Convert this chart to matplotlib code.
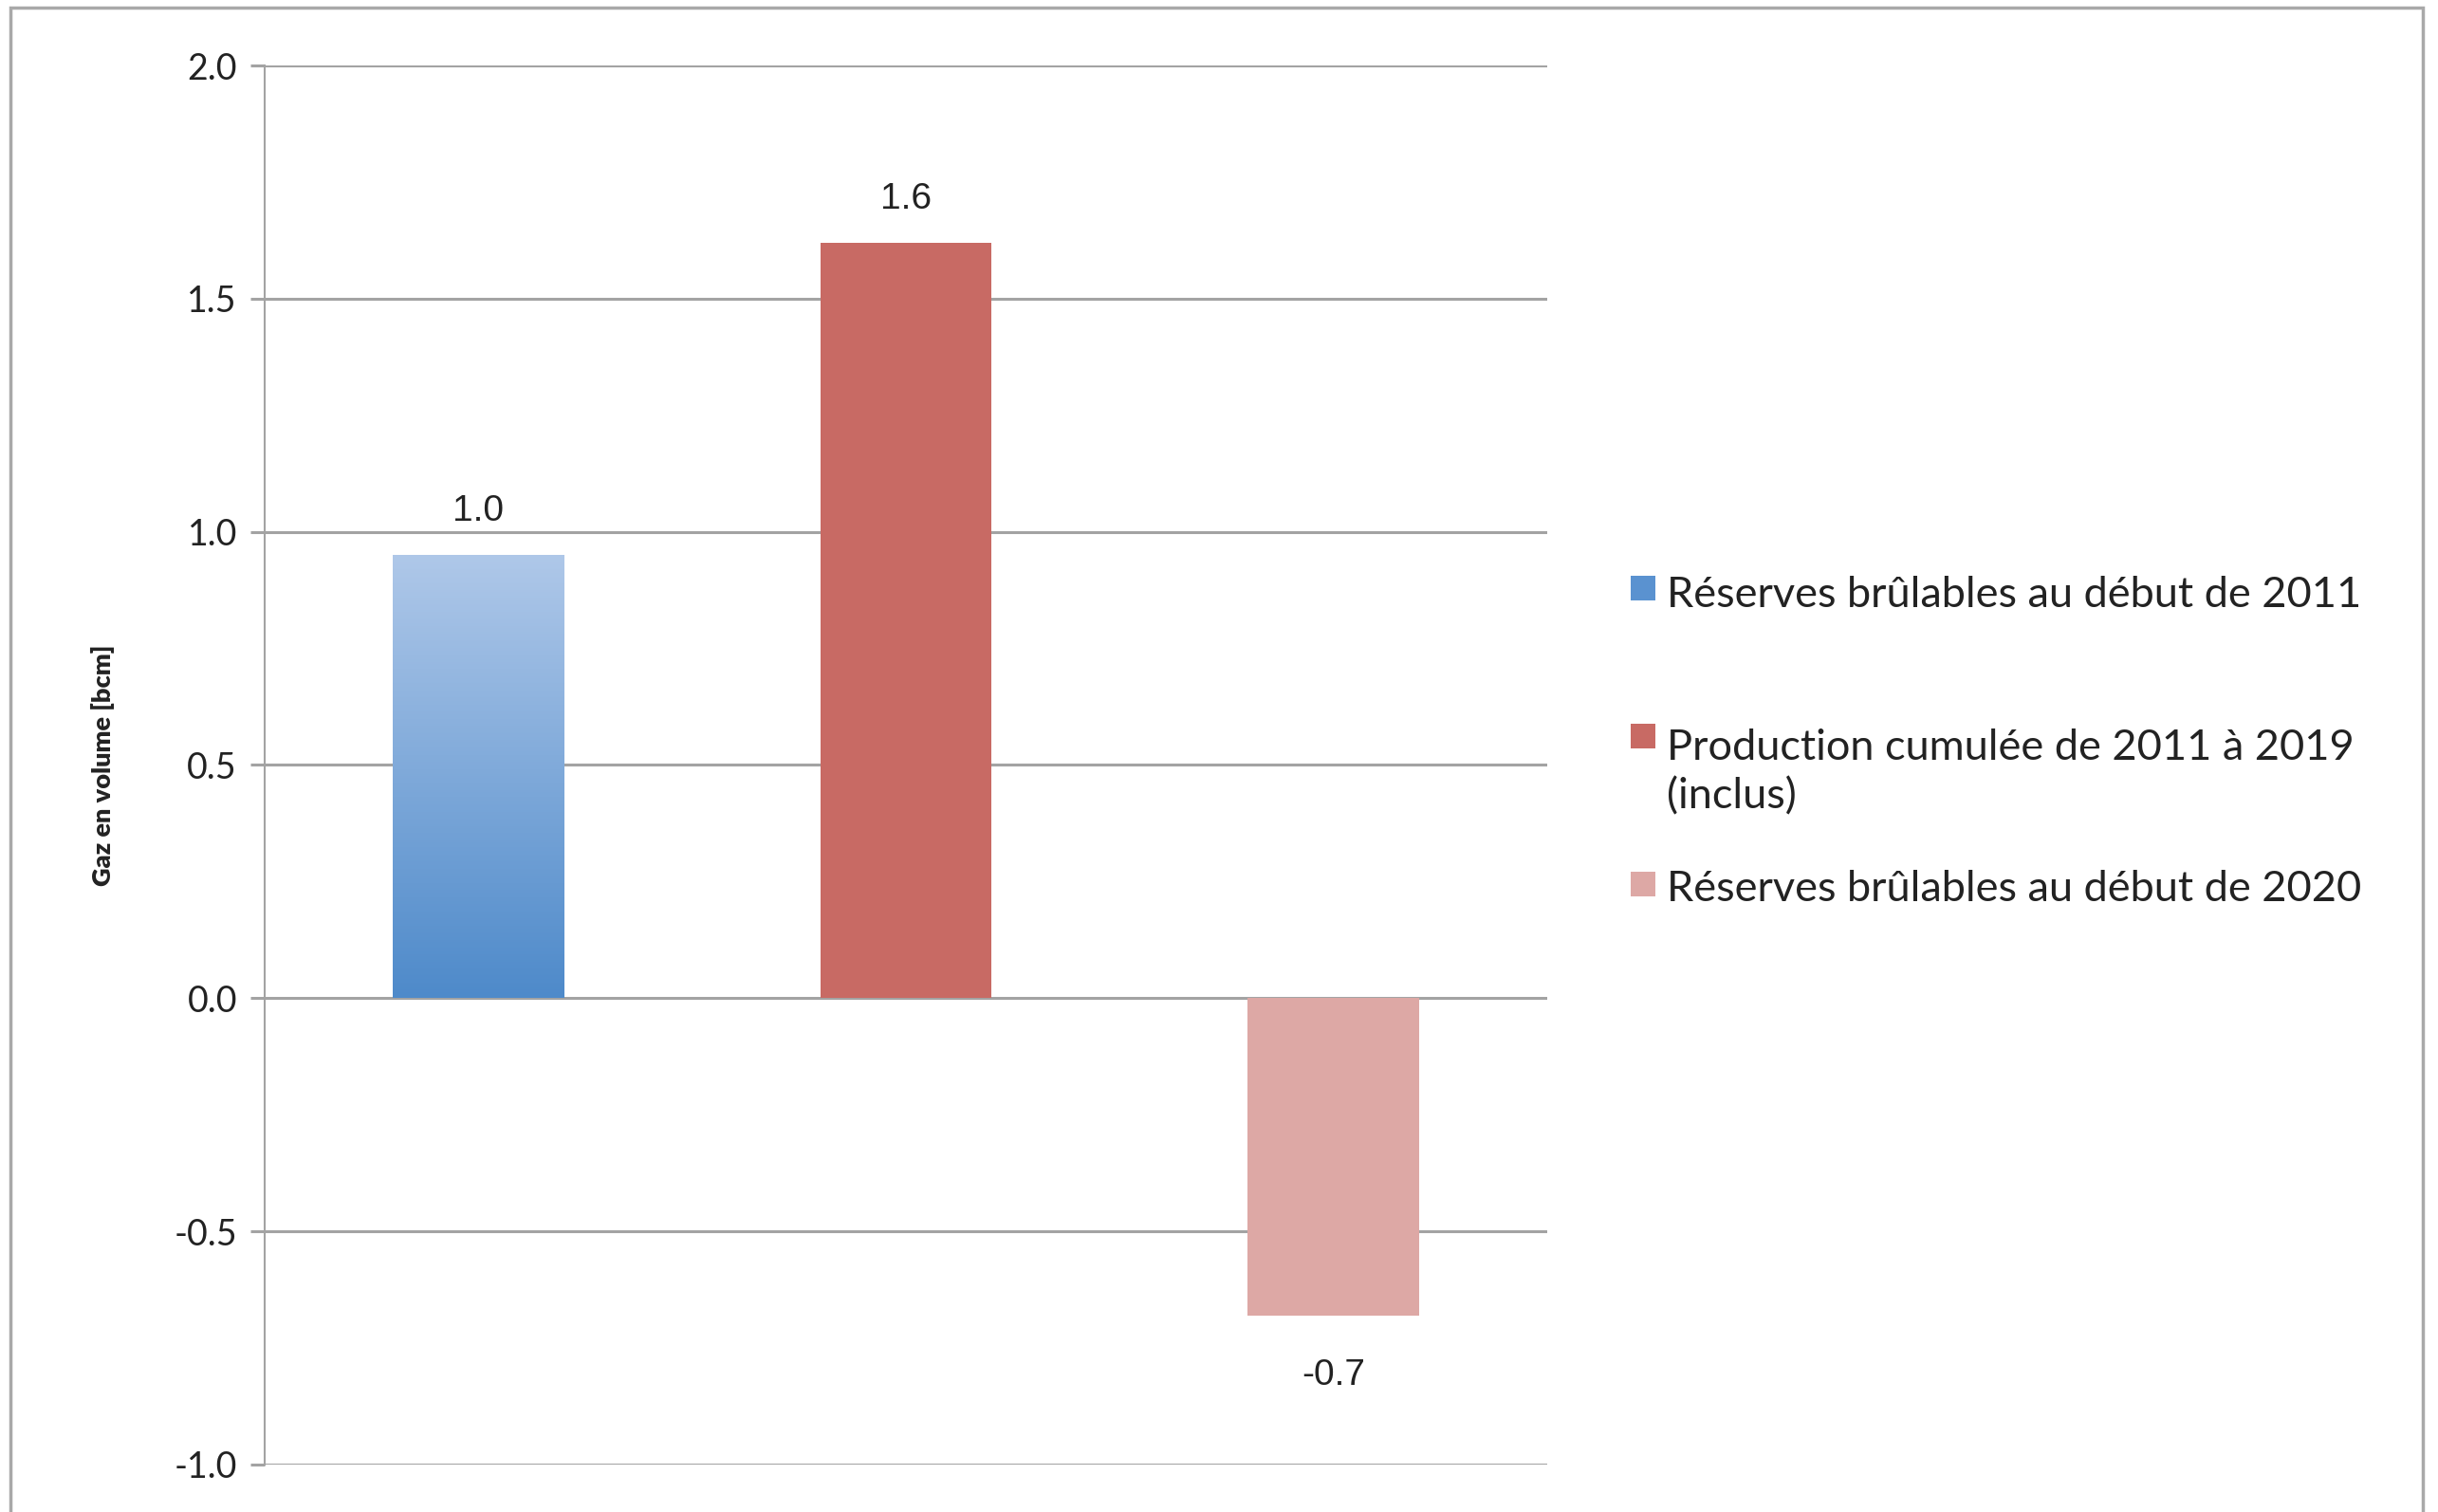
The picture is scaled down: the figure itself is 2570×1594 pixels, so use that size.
import numpy as np
import matplotlib.pyplot as plt
from matplotlib.patches import Rectangle
from matplotlib.colors import to_rgb

#-----------------------------------------------------------------------------------------------------------------------
# 1 - data

categories = ['Réserves brûlables au début de 2011',
              'Production cumulée de 2011 à 2019\n(inclus)',
              'Réserves brûlables au début de 2020']
values = [0.95, 1.62, -0.68]
value_labels = ['1.0', '1.6', '-0.7']
y_ticks = [-1.0, -0.5, 0.0, 0.5, 1.0, 1.5, 2.0]

bar_colors = ['#6E9BD3', '#C86A64', '#DDA8A5']
legend_colors = ['#5A92D0', '#C86A64', '#DDA8A5']
blue_top = '#AFC8E9'
blue_bottom = '#4E8ACA'
grid_color = '#A3A3A3'
text_color = '#222222'

#-----------------------------------------------------------------------------------------------------------------------
# 2 - figure and axes

fig = plt.figure(figsize=(25.7, 15.94), dpi=100)
ax = fig.add_axes([0.1086, 0.0314, 0.5260, 0.9253])

x = np.arange(len(values))
bars = ax.bar(x, values, width=0.4, color=bar_colors, zorder=3)

# gradient on the first bar (light on top, darker at the bottom)
b0 = bars[0]
bx, by = b0.get_x(), b0.get_y()
bw, bh = b0.get_width(), b0.get_height()
grad = np.linspace(0, 1, 256).reshape(-1, 1, 1)
img = np.array(to_rgb(blue_top)) * (1 - grad) + np.array(to_rgb(blue_bottom)) * grad
im = ax.imshow(img, extent=[bx, bx + bw, by, by + bh], origin='upper', aspect='auto', zorder=4)
im.set_clip_path(b0)

ax.set_xlim(-0.5, 2.5)
ax.set_ylim(-1.0, 2.0)
ax.set_yticks(y_ticks)
ax.set_yticklabels([f'{t:.1f}' for t in y_ticks], fontsize=27, family='Lato', color=text_color)
ax.set_xticks([])

ax.grid(axis='y', color=grid_color, linewidth=2.2, zorder=0)
for side in ['top', 'right', 'bottom']:
    ax.spines[side].set_visible(False)
ax.spines['left'].set_color(grid_color)
ax.spines['left'].set_linewidth(1.5)
ax.tick_params(axis='y', length=11, width=2.2, color=grid_color, pad=10)

ax.set_ylabel('Gaz en volume [bcm]', fontsize=19.5, family='Lato', fontweight='heavy', color=text_color)
ax.yaxis.set_label_coords(-0.117, 0.5)

# data labels
for bar, v, lab in zip(bars, values, value_labels):
    cx = bar.get_x() + bar.get_width() / 2
    if v >= 0:
        ax.annotate(lab, (cx, v), xytext=(0, 20), textcoords='offset points',
                    ha='center', va='bottom', fontsize=28, family='Liberation Sans', color=text_color)
    else:
        ax.annotate(lab, (cx, v), xytext=(0, -33), textcoords='offset points',
                    ha='center', va='top', fontsize=28, family='Liberation Sans', color=text_color)

#-----------------------------------------------------------------------------------------------------------------------
# 3 - legend (placed by hand so the square sits on the first line)

# baseline of the last line of each entry, centre of each square (figure fraction)
legend_baseline = [0.5985, 0.4655, 0.4040]
legend_square = [0.611, 0.5132, 0.4153]
for lab, col, ly, sy in zip(categories, legend_colors, legend_baseline, legend_square):
    fig.patches.append(Rectangle((0.6690, sy - 0.0083), 0.0101, 0.0166, transform=fig.transFigure,
                                 facecolor=col, edgecolor='none'))
    fig.text(0.6835, ly, lab, ha='left', va='baseline', fontsize=32.5, family='Lato',
             color=text_color, linespacing=1.3)

# outer frame
fig.patches.append(Rectangle((0.0043, -0.02), 0.9893, 1.015, transform=fig.transFigure,
                             fill=False, edgecolor='#A9A9A9', linewidth=2.5))

plt.savefig('out.png', dpi=100)
